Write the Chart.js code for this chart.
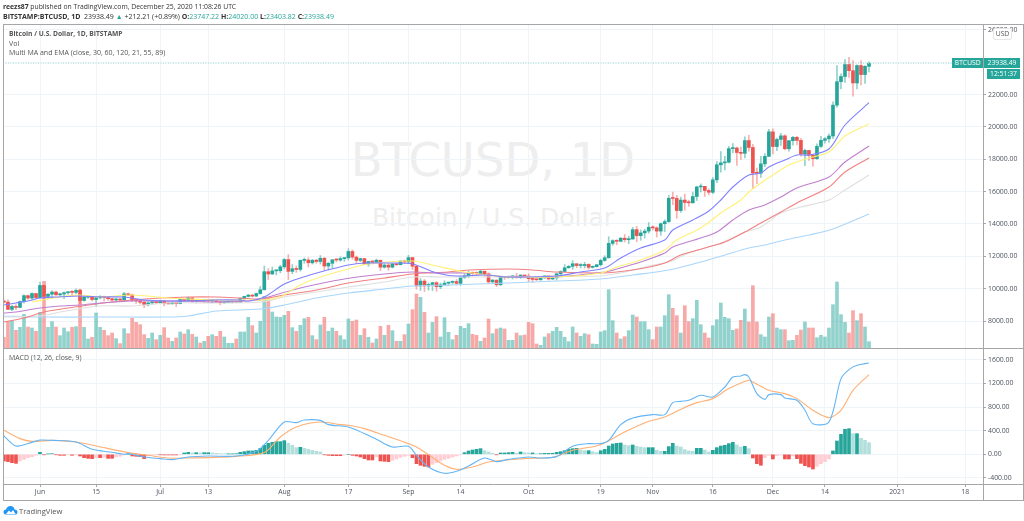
<!DOCTYPE html>
<html>
<head>
<meta charset="utf-8">
<title>BTCUSD, 1D</title>
<script src="https://cdn.jsdelivr.net/npm/chart.js@4/dist/chart.umd.min.js"></script>
<style>
  html, body { margin: 0; padding: 0; background: #fff; }
  body { width: 1024px; height: 521px; position: relative; overflow: hidden; font-family: "Open Sans", sans-serif; color: #333; }
  canvas { position: absolute; left: 0; }
  #precios { top: 0; }
  #macd { top: 349px; }
  .txt { position: absolute; white-space: nowrap; }
  .frame { position: absolute; background: #a6a6a6; }
  .mark { color: #eeeeee; text-align: center; font-family: "DejaVu Sans", sans-serif; }
  .teal { color: #26a69a; }
  .tag { position: absolute; background: #26a69a; color: #fff; font-size: 6.8px; line-height: 10px; text-align: center; }
</style>
</head>
<body>
<div class="txt mark" style="left:293px;top:130px;width:400px;font-size:46.500px;line-height:60px">BTCUSD, 1D</div>
<div class="txt mark" style="left:293px;top:200px;width:400px;font-size:25px;line-height:36px">Bitcoin / U.S. Dollar</div>

<canvas id="precios" width="1024" height="349"></canvas>
<canvas id="macd" width="1024" height="172"></canvas>

<div class="frame" style="left:3px;top:24px;width:1020px;height:1px"></div>
<div class="frame" style="left:3px;top:348px;width:1020px;height:1px"></div>
<div class="frame" style="left:3px;top:500px;width:1020px;height:1px"></div>
<div class="frame" style="left:3px;top:24px;width:1px;height:476px"></div>
<div class="frame" style="left:1023px;top:24px;width:1px;height:477px"></div>
<div class="frame" style="left:983px;top:484px;width:1px;height:16px"></div>
<div class="frame" style="left:983px;top:484px;width:40px;height:1px"></div>

<div class="txt" style="left:3px;top:2px;font-size:6.8px;line-height:10px"><b>reezs87</b> published on TradingView.com, December 25, 2020 11:08:26 UTC</div>
<div class="txt" style="left:3px;top:12px;font-size:7px;line-height:10px"><b>BITSTAMP:BTCUSD, 1D</b>&nbsp; 23938.49 <span class="teal">▲</span> +212.21 (+0.89%) <b>O:</b><span class="teal">23747.22</span> <b>H:</b><span class="teal">24020.00</span> <b>L:</b><span class="teal">23403.82</span> <b>C:</b><span class="teal">23938.49</span></div>
<div class="txt" style="left:9px;top:29px;font-size:6.7px;line-height:10px;color:#555"><b>Bitcoin / U.S. Dollar, 1D, BITSTAMP</b></div>
<div class="txt" style="left:9px;top:38.500px;font-size:7px;line-height:10px;color:#555">Vol</div>
<div class="txt" style="left:9px;top:48px;font-size:7px;line-height:10px;color:#555">Multi MA and EMA (close, 30, 60, 120, 21, 55, 89)</div>
<div class="txt" style="left:9px;top:353px;font-size:6.9px;line-height:10px;color:#555">MACD (12, 26, close, 9)</div>

<div class="tag" style="left:952px;top:58px;width:31px">BTCUSD</div>
<div class="tag" style="left:984px;top:58px;width:36px">23938.49</div>
<div class="tag" style="left:987px;top:69px;width:33px">12:51:37</div>
<div class="txt" style="left:993px;top:28px;width:17px;height:10px;background:#fff;border:1px solid #e6e6e6;border-radius:2px;font-size:6.8px;line-height:10px;text-align:center;color:#555">USD</div>

<svg class="txt" style="left:3px;top:505px" width="15" height="10" viewBox="0 0 15 10">
  <path d="M0.500 7 Q0.500 4.500 3 4.500 Q4 1 7.500 1 Q11 1 11.500 4.500 Q14.500 4.500 14.500 7 Q14.500 9.500 12 9.500 L3 9.500 Q0.500 9.500 0.500 7 Z" fill="#2196f3"/>
  <path d="M3 9 L6 5.500 L8 7.500 L10 5 L12.500 9 Z" fill="#fff"/>
</svg>
<div class="txt" style="left:19px;top:506px;font-size:7.6px;line-height:10px;color:#555">TradingView</div>

<script>
//DATOS
// dias contados desde el 1 de junio de 2020
const firstDay = -9; // May 23
const xMin = -9.24, xMax = 235.46;
const tickDays = [0, 14, 30, 42, 61, 77, 92, 105, 122, 140, 153, 168, 183, 196, 214, 231];
const tickLabels = ['Jun', '15', 'Jul', '13', 'Aug', '17', 'Sep', '14', 'Oct', '19', 'Nov', '16', 'Dec', '14', '2021', '18'];
const priceTicks = [8000, 10000, 12000, 14000, 16000, 18000, 20000, 22000, 24000, 26000];
const macdTicks = [-400, 0, 400, 800, 1200, 1600];
const lastPrice = 23938.49;

const opens = [9180,9170,8720,8900,8840,9200,9570,9420,9700,9450,
  10200,9520,9660,9790,9620,9670,9750,9780,9770,9890,
  9270,9470,9470,9330,9430,9520,9450,9380,9300,9360,
  9290,9680,9610,9280,9250,9160,9000,9120,9190,9135,
  9230,9090,9060,9130,9075,9340,9250,9430,9230,9290,
  9235,9300,9240,9255,9190,9130,9155,9170,9210,9160,
  9390,9520,9600,9540,9700,9930,11050,10910,11100,11110,
  11350,11800,11070,11230,11190,11750,11770,11600,11760,11680,
  11880,11400,11570,11790,11770,11860,11910,12300,11950,11750,
  11860,11520,11680,11650,11760,11330,11460,11330,11530,11480,
  11710,11650,11920,11390,10170,10470,10170,10260,10370,10120,
  10230,10340,10390,10440,10330,10680,10790,10950,10940,10930,
  11080,10920,10420,10530,10240,10740,10690,10730,10770,10690,
  10840,10780,10620,10570,10550,10670,10790,10600,10670,10920,
  11060,11290,11380,11540,11430,11430,11500,11320,11360,11480,
  11750,11910,12800,12970,12930,13120,13030,13070,13650,13280,
  13450,13560,13800,13760,13560,14020,14150,15590,15580,14830,
  15480,15330,15310,15700,16290,16330,16070,15960,16730,17660,
  17780,17820,18660,18700,18420,18370,19160,18730,17150,17140,
  17720,18180,19700,18790,19230,19450,18650,19150,19360,19170,
  18320,18550,18250,18040,18800,19170,19270,19440,21350,22800,
  23120,23860,23480,22720,23800,23240,23747.22];
const highs = [9310,9310,8970,9010,9230,9620,9600,9740,9700,10400,
  10220,9690,9880,9850,9730,9800,9800,9880,9990,9970,
  9550,9500,9490,9490,9580,9540,9480,9400,9400,9410,
  9780,9720,9670,9330,9290,9200,9190,9230,9200,9290,
  9270,9120,9190,9140,9360,9360,9470,9450,9310,9310,
  9340,9350,9280,9270,9210,9190,9200,9230,9220,9430,
  9540,9650,9640,9730,10140,11400,11240,11340,11180,11450,
  11870,12110,11490,11410,11780,11900,11920,11800,11810,12050,
  11940,11620,11790,11860,11970,11930,12470,12400,12020,11890,
  11880,11690,11720,11830,11760,11540,11580,11550,11570,11720,
  11780,12060,11950,11450,10620,10570,10350,10410,10430,10350,
  10490,10410,10480,10570,10760,10930,11100,11040,11040,11180,
  11080,10980,10570,10540,10760,10760,10790,10800,10950,10860,
  10850,10920,10660,10600,10700,10800,10800,10680,10960,11110,
  11490,11430,11730,11550,11550,11630,11540,11410,11500,11820,
  12040,13210,13030,13030,13170,13350,13240,13790,13850,13630,
  13680,14090,13890,13830,14070,14260,15770,15970,15770,15660,
  15850,15470,15970,16340,16480,16330,16170,16870,17860,18480,
  18190,18800,18970,18760,18760,19390,19480,18930,17460,18180,
  18350,19860,19890,19310,19600,19520,19180,19420,19420,19290,
  18630,18560,18290,18950,19420,19340,19570,21560,23800,23280,
  24170,24300,24100,23840,24100,23790,24020];
const lows = [9120,8700,8640,8700,8810,9110,9340,9340,9380,9420,
  9270,9390,9460,9590,9530,9380,9640,9570,9680,9070,
  9230,9390,9240,8900,9370,9240,9280,9210,9200,9270,
  9270,9570,9210,9090,9050,8830,8940,9020,9070,9090,
  8940,9050,9050,8900,9060,9200,9240,9150,9120,9190,
  9160,9200,9120,9160,9000,9090,9150,9110,9140,9150,
  9280,9480,9480,9520,9650,9920,10560,10880,10850,10980,
  11220,10560,10930,11010,11080,11570,11340,11520,11570,11520,
  11130,11160,11280,11650,11690,11690,11770,11820,11590,11670,
  11490,11380,11530,11600,11120,11270,11130,11280,11430,11470,
  11570,11580,11170,9960,9880,9820,9900,9880,9840,10000,
  10210,10200,10290,10230,10210,10630,10670,10770,10810,10890,
  10760,10300,10360,10130,10200,10570,10650,10600,10640,10630,
  10670,10440,10370,10510,10520,10630,10530,10560,10530,10830,
  11060,11270,11200,11300,11280,11270,11210,11270,11340,11400,
  11690,11890,12680,12720,12900,12890,12780,13060,12900,12990,
  13130,13430,13620,13200,13300,13530,14090,15190,14350,14720,
  14850,15090,15280,15450,15980,15710,15800,15880,16560,17210,
  17350,17770,18400,17620,18000,18080,18500,16200,16500,16880,
  17540,18180,18330,18530,18860,18580,18510,18870,18900,18200,
  17610,17930,17580,18000,18720,19000,19050,19280,21230,22350,
  22750,23060,21900,22350,22600,22700,23403.82];
const closes = [9170,8720,8900,8840,9200,9570,9420,9700,9450,10200,
  9520,9660,9790,9620,9670,9750,9780,9770,9890,9270,
  9470,9470,9330,9430,9520,9450,9380,9300,9360,9290,
  9680,9610,9280,9250,9160,9000,9120,9190,9135,9230,
  9090,9060,9130,9075,9340,9250,9430,9230,9290,9235,
  9300,9240,9255,9190,9130,9155,9170,9210,9160,9390,
  9520,9600,9540,9700,9930,11050,10910,11100,11110,11350,
  11800,11070,11230,11190,11750,11770,11600,11760,11680,11880,
  11400,11570,11790,11770,11860,11910,12300,11950,11750,11860,
  11520,11680,11650,11760,11330,11460,11330,11530,11480,11710,
  11650,11920,11390,10170,10470,10170,10260,10370,10120,10230,
  10340,10390,10440,10330,10680,10790,10950,10940,10930,11080,
  10920,10420,10530,10240,10740,10690,10730,10770,10690,10840,
  10780,10620,10570,10550,10670,10790,10600,10670,10920,11060,
  11290,11380,11540,11430,11430,11500,11320,11360,11480,11750,
  11910,12800,12970,12930,13120,13030,13070,13650,13280,13450,
  13560,13800,13760,13560,14020,14150,15590,15580,14830,15480,
  15330,15310,15700,16290,16330,16070,15960,16730,17660,17780,
  17820,18660,18700,18420,18370,19160,18730,17150,17140,17720,
  18180,19700,18790,19230,19450,18650,19150,19360,19170,18320,
  18550,18250,18040,18800,19170,19270,19440,21350,22800,23120,
  23860,23480,22720,23800,23240,23747.22,23938.49];
// volumen en centenas
const volumes = [32,80,80,53,62,101,63,60,50,107,200,62,79,63,37,60,49,62,64,175,
  62,27,32,105,62,53,37,45,28,13,58,43,89,77,70,40,29,45,25,38,
  61,30,20,30,48,42,55,41,33,15,20,35,40,35,50,33,14,14,27,48,
  48,92,67,45,80,155,150,108,93,92,98,110,61,50,68,88,92,37,25,69,
  92,50,60,50,37,25,87,80,84,38,58,32,15,27,65,38,68,52,20,20,
  40,72,115,162,152,107,45,77,94,33,91,47,25,38,65,59,73,41,38,20,
  30,87,43,57,60,57,23,23,45,37,39,77,73,12,8,33,43,50,62,50,
  32,19,63,45,35,43,40,12,11,48,52,175,82,45,27,34,52,99,93,79,
  79,55,25,63,63,97,160,119,97,45,127,79,88,143,70,45,30,67,85,135,
  92,88,53,57,83,117,78,187,78,40,33,93,103,60,55,55,22,23,38,54,
  78,60,60,31,38,33,60,130,198,100,77,45,112,82,103,63,19];
const macdHist = [-113,-124,-141,-153,-113,-85,-57,-40,-17,34,
  -6,6,11,-6,-17,-17,-6,-17,-6,-28,
  -57,-68,-73,-57,-57,-51,-68,-68,-45,-34,
  -11,0,-28,-34,-40,-73,-23,-11,-6,-6,
  -11,-11,-11,-11,-6,23,34,23,28,23,
  28,28,23,17,11,6,6,6,11,34,
  45,57,57,68,102,153,186,203,215,215,
  232,186,153,113,119,102,85,68,51,40,
  -6,-17,-23,-23,-23,-11,0,-17,-28,-45,
  -73,-96,-96,-45,-113,-119,-124,-102,-79,-51,
  -34,-17,-57,-158,-186,-203,-215,-170,-141,-113,
  -85,-68,-45,-28,-6,28,57,73,85,96,
  62,40,17,-6,23,23,28,34,17,40,
  28,23,23,11,11,17,17,17,34,45,
  62,85,96,102,73,62,62,45,28,62,
  85,141,175,186,192,158,147,158,136,124,
  113,113,113,68,51,51,130,186,141,124,
  79,57,51,102,102,73,40,68,113,141,
  153,181,203,158,124,136,96,-62,-158,-186,
  -57,-17,-79,-23,-11,-79,-79,-28,-73,-153,
  -192,-215,-249,-203,-158,-124,-79,57,226,339,
  424,435,350,350,271,237,198];

// medias: dia y valor de cada vertice
const ema21Days = [-9,-6,-3,0,4,10,15,21,26,32,37,43,50,52,56,61,65,70,77,81,87,93,99,104,111,117,129,135,141,145,150,156,158,163,167,170,173,177,180,182,186,189,192,197,201,207];
const ema21Vals = [8992,9114,9237,9423,9485,9547,9485,9485,9299,9237,9237,9299,9299,9237,9485,10288,10660,11030,11463,11587,11587,11525,10969,10783,10845,10721,10783,11030,11278,11897,12515,13010,13630,14246,14803,15483,16287,17029,17153,17524,17957,18266,18266,18637,20121,21500];
const ma30Days = [-2,5,10,15,23,32,37,44,50,55,60,65,70,76,82,93,99,106,112,117,129,140,144,150,156,159,165,170,175,177,180,183,187,192,197,201,207];
const ma30Vals = [9175,9485,9608,9485,9608,9423,9361,9299,9299,9299,9485,10227,10721,11154,11525,11711,11402,11030,10845,10721,10721,10969,11340,11773,12391,13010,13752,14679,15483,15978,16534,17029,17647,18080,18452,19440,20183];
const ema55Days = [-9,-6,0,5,10,15,23,32,37,44,55,57,65,76,86,93,99,106,112,117,129,141,144,150,156,158,165,169,173,177,181,185,189,197,201,207];
const ema55Vals = [8495,8557,8804,8928,8990,9114,9237,9237,9237,9175,9299,9485,10041,10598,10907,11030,10969,10969,10845,10721,10721,11030,11216,11649,12206,12576,13133,13504,14246,14865,15174,15669,16225,16905,17833,18822];
const ma60Days = [-9,-4,1,7,14,23,30,37,44,50,55,61,69,77,86,93,102,107,117,123,129,140,144,151,156,160,166,171,176,180,185,189,197,201,207];
const ma60Vals = [7938,8186,8557,8804,9052,9299,9423,9485,9485,9423,9361,9608,9917,10350,10660,10907,11030,11154,11216,11154,11030,10969,11030,11278,11587,12082,12515,12886,13504,14061,14741,15298,16287,17215,18080];
const ema89Days = [-9,0,5,15,23,32,44,55,61,69,77,86,93,102,117,129,140,146,152,157,162,170,176,180,185,190,197,201,207];
const ema89Vals = [8247,8309,8557,8928,8928,9114,9114,9175,9485,9794,10103,10412,10721,10721,10721,10783,10783,11030,11402,11649,12206,12824,13504,13813,14679,15050,15483,16101,17029];
const ma120Days = [-9,0,15,32,37,44,55,61,69,77,86,93,102,117,129,140,148,157,165,171,177,181,186,192,198,207];
const ma120Vals = [8309,8247,8247,8247,8309,8619,8742,8990,9423,9732,9979,10165,10227,10350,10474,10598,10845,11154,11649,12082,12515,12701,13010,13319,13690,14617];

const macdDays = [-9,-6,-2,0,3,9,13,18,21,22,26,30,33,37,42,49,54,57,61,64,66,70,72,77,81,84,88,92,94,97,101,104,107,111,114,117,122,125,129,133,137,140,142,145,148,153,156,158,160,162,165,168,171,173,175,176,177,179,181,182,185,186,189,191,193,197,200,202,204,207];
const macdVals = [310,141,203,242,237,208,85,34,0,12,-46,-73,-90,-46,-29,-29,51,237,547,537,581,576,503,463,351,254,124,136,-17,-215,-322,-288,-198,-63,-124,-85,-46,-63,-39,136,181,181,237,503,615,673,673,876,898,915,1000,971,1141,1310,1327,1351,1310,1029,932,1012,1012,954,915,746,520,547,1283,1436,1509,1548];
const signalDays = [-9,-5,-2,3,9,14,22,27,32,37,49,56,60,64,70,75,77,81,86,92,94,97,101,104,108,112,121,128,133,140,146,152,156,160,164,168,172,177,178,182,186,189,193,197,200,203,207];
const signalVals = [407,266,220,237,208,141,29,-17,-63,-63,-34,29,293,463,547,503,492,436,322,181,124,-5,-186,-254,-215,-130,-73,-51,68,164,378,559,632,763,876,944,1114,1254,1225,1085,1029,944,746,622,746,1085,1351];

//COLORES
const green = '#26a69a', red = '#ef5350';
const gridColor = '#eef4f8', axisColor = '#a6a6a6', textColor = '#4c525e';

//FUNCIONES
function toPoints(days, vals) {
    return days.map((d, i) => ({ x: d, y: vals[i] }));
}

function lineDataset(days, vals, color, width, yAxisID) {
    return { type: 'line', data: toPoints(days, vals), borderColor: color, borderWidth: width, pointRadius: 0, tension: 0.3, yAxisID: yAxisID, order: 1 };
}

function noMargins(scale) {
    scale.paddingTop = 0; scale.paddingBottom = 0; scale.paddingLeft = 0; scale.paddingRight = 0;
}

const upDay = closes.map((c, i) => c >= opens[i]);

function yAxis(min, max, tickValues) {
    return {
        position: 'right', min: min, max: max,
        afterBuildTicks: s => { s.ticks = tickValues.map(v => ({ value: v })); },
        afterFit: s => { s.width = 41; noMargins(s); },
        grid: { color: gridColor, tickColor: axisColor, tickLength: 3 },
        border: { display: true, color: axisColor },
        ticks: {
            autoSkip: false, padding: 2, color: textColor,
            font: { family: 'Open Sans', size: 6.9 },
            callback: v => v.toFixed(2)
        }
    };
}

function xAxis(height, showLabels) {
    return {
        type: 'linear', min: xMin, max: xMax, offset: false,
        afterBuildTicks: s => { s.ticks = tickDays.map(d => ({ value: d })); },
        afterFit: s => { s.height = height; noMargins(s); },
        grid: { color: gridColor, offset: false, tickColor: axisColor, tickLength: 3, drawTicks: showLabels },
        border: { display: showLabels, color: axisColor },
        ticks: {
            display: showLabels, autoSkip: false, maxRotation: 0, padding: 1, color: textColor,
            font: { family: 'Open Sans', size: 6.9 },
            callback: v => tickLabels[tickDays.indexOf(v)]
        }
    };
}

// panel de precio y volumen
new Chart(document.getElementById('precios'), {
    data: {
        datasets: [
            lineDataset(ema21Days, ema21Vals, '#8080ff', 1.1, 'y'),
            lineDataset(ma30Days, ma30Vals, '#fff176', 1.1, 'y'),
            lineDataset(ema55Days, ema55Vals, '#c07fce', 1.1, 'y'),
            lineDataset(ma60Days, ma60Vals, '#f28080', 1.1, 'y'),
            lineDataset(ema89Days, ema89Vals, '#dfdfdf', 1.1, 'y'),
            lineDataset(ma120Days, ma120Vals, '#a9d6fb', 1.1, 'y'),
            { type: 'line', data: toPoints([xMin, xMax], [lastPrice, lastPrice]), borderColor: '#a8dcd6', borderWidth: 1, borderDash: [1, 1.500], pointRadius: 0, yAxisID: 'y', order: 2 },
            {
                type: 'bar', grouped: false, barThickness: 3, minBarLength: 1, yAxisID: 'y', order: 3,
                data: opens.map((o, i) => ({ x: firstDay + i, y: [o, closes[i]] })),
                backgroundColor: upDay.map(u => u ? green : red)
            },
            {
                type: 'bar', grouped: false, barThickness: 1, yAxisID: 'y', order: 4,
                data: lows.map((l, i) => ({ x: firstDay + i, y: [l, highs[i]] })),
                backgroundColor: upDay.map(u => u ? 'rgba(38,166,154,.5)' : 'rgba(239,83,80,.45)')
            },
            {
                type: 'bar', grouped: false, barThickness: 3, yAxisID: 'yVol', order: 5,
                data: volumes.map((v, i) => ({ x: firstDay + i, y: v })),
                backgroundColor: upDay.map(u => u ? 'rgba(38,166,154,.5)' : 'rgba(239,83,80,.5)')
            }
        ]
    },
    options: {
        responsive: false, animation: false, events: [],
        layout: { padding: { left: 3, top: 24, bottom: 1, right: 0 } },
        plugins: { legend: { display: false }, tooltip: { enabled: false } },
        scales: {
            x: xAxis(0, false),
            y: yAxis(6331, 26367, priceTicks),
            yVol: { display: false, min: 0, max: 972 }
        }
    }
});

// panel MACD con el eje de fechas
new Chart(document.getElementById('macd'), {
    data: {
        datasets: [
            lineDataset(macdDays, macdVals, '#64b5f6', 1.1, 'y'),
            lineDataset(signalDays, signalVals, '#ffb074', 1.1, 'y'),
            {
                type: 'bar', grouped: false, barThickness: 3, yAxisID: 'y', order: 3,
                data: macdHist.map((v, i) => ({ x: firstDay + i, y: v })),
                backgroundColor: macdHist.map((v, i) => {
                    const prev = i > 0 ? macdHist[i - 1] : v;
                    if (v >= 0) return v >= prev ? green : '#b2dfdb';
                    return v <= prev ? red : '#ffcdd2';
                })
            }
        ]
    },
    options: {
        responsive: false, animation: false, events: [],
        layout: { padding: { left: 3, top: 0, bottom: 21, right: 0 } },
        plugins: { legend: { display: false }, tooltip: { enabled: false } },
        scales: {
            x: xAxis(16, true),
            y: yAxis(-503, 1785, macdTicks)
        }
    }
});
</script>
</body>
</html>
